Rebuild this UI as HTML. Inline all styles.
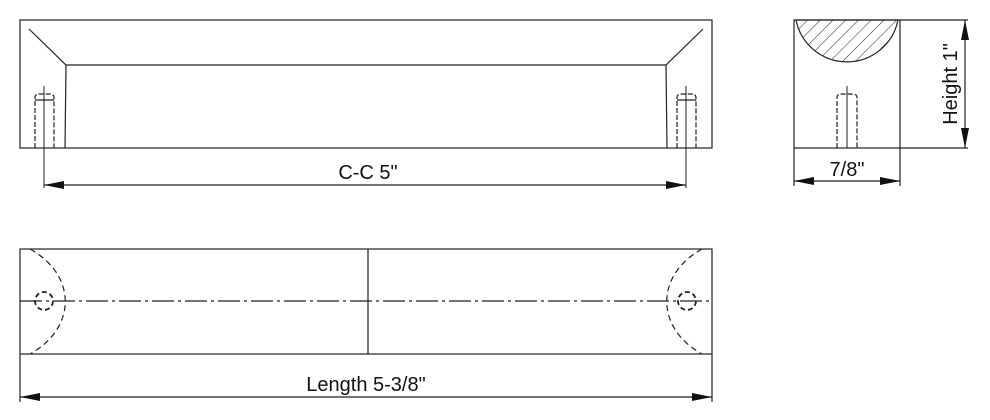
<!DOCTYPE html>
<html><head><style>html,body{margin:0;padding:0;background:#fff}svg{display:block}</style></head><body>
<svg width="990" height="420" viewBox="0 0 990 420" xmlns="http://www.w3.org/2000/svg" font-family="Liberation Sans, sans-serif">
<defs>
<pattern id="h" width="9" height="9" patternUnits="userSpaceOnUse" patternTransform="rotate(45)"><line x1="0" y1="0" x2="0" y2="9" stroke="#222" stroke-width="1"/></pattern>
<marker id="a" viewBox="0 0 20 8" refX="20" refY="4" markerWidth="20" markerHeight="8" markerUnits="userSpaceOnUse" orient="auto-start-reverse"><path d="M0,0 L20,4 L0,8 Z" fill="#111"/></marker>
</defs>
<g fill="none" stroke="#222" stroke-width="1.2">
<rect x="20" y="20" width="692" height="128"/>
<path d="M29,29 L66,65 L666,65 L703,29 M66,65 L65,148 M666,65 L667,148"/>
<g id="s">
<path d="M35,148 V98 Q35,94 39,94 H50 Q54,94 54,98 V148" stroke-dasharray="5,2"/>
<path d="M35,100 H54"/>
<line x1="44" y1="86" x2="44" y2="188" stroke-width="1"/>
</g>
<use href="#s" x="642"/>
<line x1="44" y1="185" x2="686" y2="185" marker-start="url(#a)" marker-end="url(#a)"/>
<rect x="794" y="20" width="106" height="128"/>
<path d="M796,20 A52 52 0 0 0 898,20 Z" fill="url(#h)"/>
<path d="M837,148 V98 Q837,94 841,94 H853 Q857,94 857,98 V148" stroke-dasharray="5,2"/>
<line x1="847" y1="86" x2="847" y2="148" stroke-width="1"/>
<path d="M900,20 H968 M900,148 H968 M794,148 V186 M900,148 V186"/>
<line x1="965" y1="20" x2="965" y2="148" marker-start="url(#a)" marker-end="url(#a)"/>
<line x1="794" y1="181" x2="900" y2="181" marker-start="url(#a)" marker-end="url(#a)"/>
<rect x="20" y="249" width="692" height="105"/>
<line x1="20" y1="301" x2="712" y2="301" stroke-dasharray="22,4,3,4"/>
<line x1="368" y1="249" x2="368" y2="354"/>
<path d="M30,249 C77,275 77,328 30,354" stroke-dasharray="6,4"/>
<path d="M702,249 C655,275 655,328 702,354" stroke-dasharray="6,4"/>
<circle cx="44" cy="301" r="9" stroke-dasharray="5,3" stroke-width="1.8"/>
<circle cx="687" cy="301" r="9" stroke-dasharray="5,3" stroke-width="1.8"/>
<path d="M20,354 V402 M712,354 V402"/>
<line x1="20" y1="397" x2="712" y2="397" marker-start="url(#a)" marker-end="url(#a)"/>
</g>
<g fill="#111" font-size="20" text-anchor="middle">
<text x="368" y="179">C-C 5"</text>
<text x="847" y="176">7/8"</text>
<text x="366" y="391">Length 5-3/8"</text>
<text transform="translate(957,84) rotate(-90)">Height 1"</text>
</g>
</svg>
</body></html>
